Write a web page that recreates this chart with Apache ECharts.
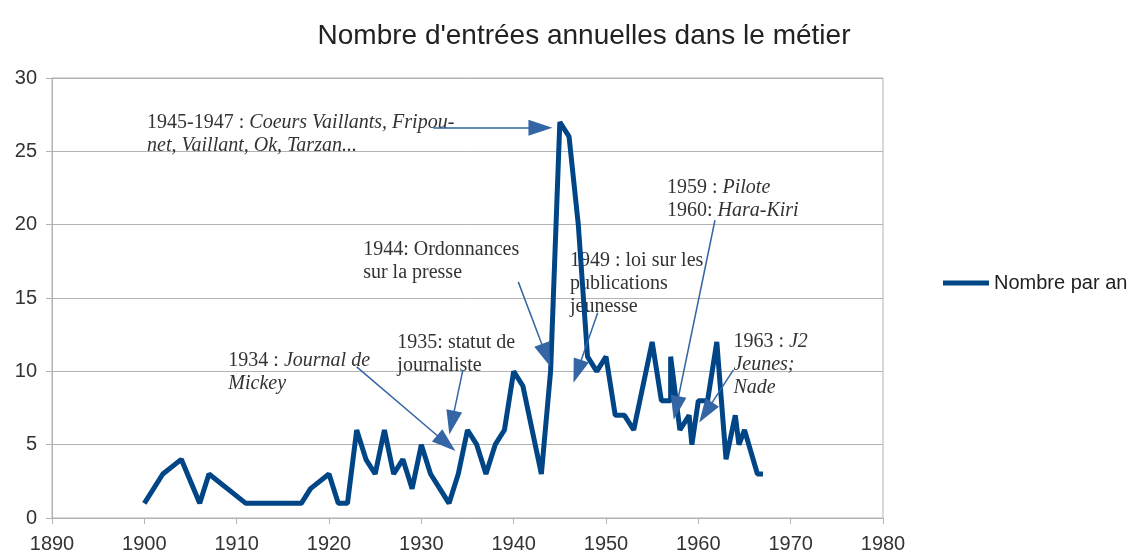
<!DOCTYPE html>
<html>
<head>
<meta charset="utf-8">
<script src="https://cdn.jsdelivr.net/npm/echarts@6/dist/echarts.min.js"></script>
<style>
  html, body {margin: 0; padding: 0; background: #fff;}
  #main {width: 1141px; height: 556px;}
</style>
</head>
<body>
<div id="main"></div>
<script>
// années / nombre d'entrées
const years = [1900, 1902, 1904, 1906, 1907, 1911, 1917, 1918, 1920, 1921, 1922, 1923, 1924, 1925,
  1926, 1927, 1928, 1929, 1930, 1931, 1932, 1933, 1934, 1935, 1936, 1937, 1938, 1939, 1940, 1941,
  1942, 1943, 1944, 1945, 1946, 1947, 1948, 1949, 1950, 1951, 1952, 1953, 1955, 1956, 1957, 1957,
  1958, 1959, 1959.3, 1960, 1961, 1962, 1963, 1964, 1964.4, 1965, 1966.4, 1967];
const counts = [1, 3, 4, 1, 3, 1, 1, 2, 3, 1, 1, 6, 4, 3,
  6, 3, 4, 2, 5, 3, 2, 1, 3, 6, 5, 3, 5, 6, 10, 9,
  6, 3, 10, 27, 26, 20, 11, 10, 11, 7, 7, 6, 12, 8, 8, 11,
  6, 7, 5, 8, 8, 12, 4, 7, 5, 6, 3, 3];
const xTicks = {min: 1890, max: 1980, interval: 10};
const yTicks = {min: 0, max: 30, interval: 5};
const seriesName = 'Nombre par an';

// notes : ancre du texte [année, valeur], flèche [départ, arrivée]
const notes = [
  {at: [1900.3, 27.7], text: '{n|1945-1947 : }{i|Coeurs Vaillants, Fripou-}\n{i|net, Vaillant, Ok, Tarzan...}',
    arrow: [[1931.3, 26.6], [1942.9, 26.6]]},
  {at: [1923.7, 19.1], text: '{n|1944: Ordonnances}\n{n|sur la presse}',
    arrow: [[1940.5, 16.1], [1943.5, 11.1]]},
  {at: [1946.1, 18.3], text: '{n|1949 : loi sur les}\n{n|publications}\n{n|jeunesse}',
    arrow: [[1949.1, 14.0], [1946.9, 10.0]]},
  {at: [1956.6, 23.3], text: '{n|1959 : }{i|Pilote}\n{n|1960: }{i|Hara-Kiri}',
    arrow: [[1961.8, 20.3], [1957.6, 7.5]]},
  {at: [1963.8, 12.8], text: '{n|1963 : }{i|J2}\n{i|Jeunes;}\n{i|Nade}',
    arrow: [[1963.8, 10.1], [1960.8, 7.2]]},
  {at: [1909.1, 11.5], text: '{n|1934 : }{i|Journal de}\n{i|Mickey}',
    arrow: [[1923.0, 10.3], [1932.7, 5.1]]},
  {at: [1927.4, 12.7], text: '{n|1935: statut de}\n{n|journaliste}',
    arrow: [[1934.5, 10.1], [1933.3, 6.5]]}
];

const chart = echarts.init(document.getElementById('main'));
const gridColor = '#b3b3b3';
const noteFont = {fontFamily: 'Liberation Serif', fontSize: 20, color: '#333', lineHeight: 23};

chart.setOption({
  animation: false,
  title: {
    text: "Nombre d'entrées annuelles dans le métier",
    left: 579, top: 17,
    textAlign: 'center',
    textStyle: {fontFamily: 'Liberation Sans', fontSize: 28, fontWeight: 'normal', color: '#222'}
  },
  legend: {
    data: [seriesName],
    left: 938, top: 268,
    icon: 'rect', itemWidth: 46, itemHeight: 5, itemGap: 6,
    textStyle: {fontFamily: 'Liberation Sans', fontSize: 20, color: '#222'}
  },
  grid: {left: 52, right: 258, top: 78, bottom: 38, show: true, borderColor: gridColor, borderWidth: 1},
  xAxis: {
    type: 'value', ...xTicks,
    axisLine: {show: true, onZero: false, lineStyle: {color: gridColor}},
    axisTick: {show: true, length: 6, lineStyle: {color: gridColor}},
    splitLine: {show: false},
    axisLabel: {fontFamily: 'Liberation Sans', fontSize: 20, color: '#333', margin: 16,
      formatter: v => String(v)}
  },
  yAxis: {
    type: 'value', ...yTicks,
    axisLine: {show: true, lineStyle: {color: gridColor}},
    axisTick: {show: true, length: 6, lineStyle: {color: gridColor}},
    splitLine: {show: true, lineStyle: {color: gridColor}},
    axisLabel: {fontFamily: 'Liberation Sans', fontSize: 20, color: '#333', margin: 15}
  },
  series: [{
    name: seriesName,
    type: 'line',
    data: years.map((y, i) => [y, counts[i]]),
    showSymbol: false,
    color: '#004586',
    lineStyle: {width: 5, color: '#004586'},
    markLine: {
      silent: true,
      symbol: ['none', 'triangle'],
      symbolSize: [16, 24],
      label: {show: false},
      emphasis: {disabled: true},
      lineStyle: {color: '#3465a4', width: 1.5, type: 'solid'},
      data: notes.map(n => [{coord: n.arrow[0]}, {coord: n.arrow[1]}])
    }
  }]
});

// textes des notes placés via les échelles du graphique
chart.setOption({
  graphic: notes.map(n => {
    const p = chart.convertToPixel({gridIndex: 0}, n.at);
    return {
      type: 'text', x: p[0], y: p[1], z: 1,
      style: {
        text: n.text,
        ...noteFont,
        fill: '#333',
        rich: {n: {...noteFont}, i: {...noteFont, fontStyle: 'italic'}}
      }
    };
  })
});
</script>
</body>
</html>
